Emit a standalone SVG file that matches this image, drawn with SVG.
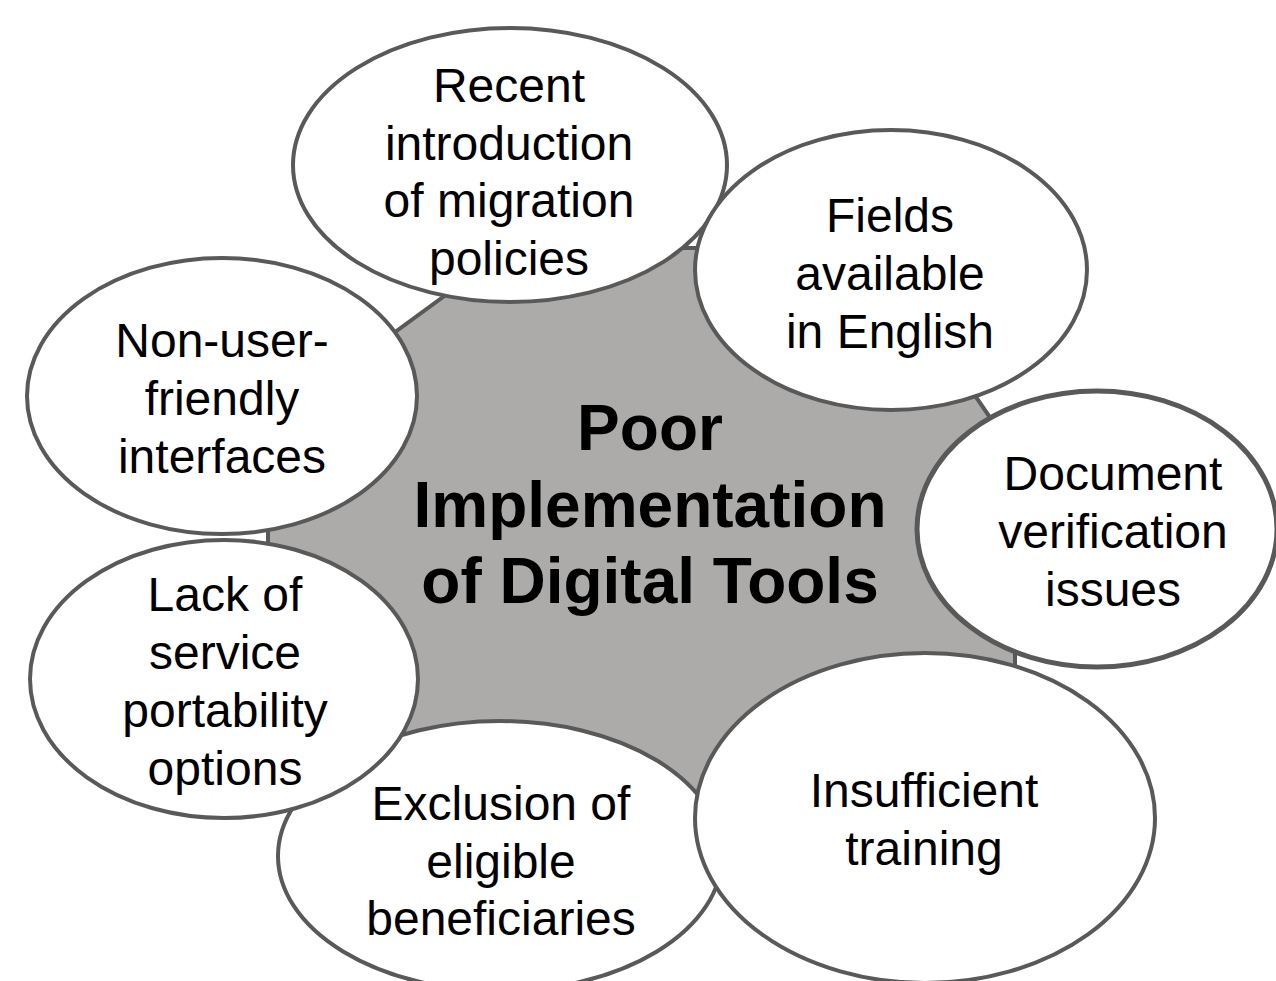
<svg xmlns="http://www.w3.org/2000/svg" width="1276" height="981" viewBox="0 0 1276 981">
<style>
.hub{fill:#acabaa;stroke:#595959;stroke-width:4;stroke-linejoin:round}
.node{fill:#ffffff;stroke:#595959;stroke-width:4}
.t{font-family:"Liberation Sans",Arial,sans-serif;font-size:48px;fill:#000;text-anchor:middle}
.c{font-family:"Liberation Sans",Arial,sans-serif;font-size:64px;font-weight:bold;fill:#000;text-anchor:middle}
</style>
<rect width="1276" height="981" fill="#ffffff"/>
<g id="center">
<polygon class="hub" points="268,425 510,248 874,248 1015,454 1015,700 870,830 430,830 268,640"/>
</g>
<g id="connectors"></g>
<g id="n-recent">
<ellipse class="node" cx="510" cy="165" rx="217" ry="137"/>
<text class="t" x="509" y="102">Recent</text>
<text class="t" x="509" y="160">introduction</text>
<text class="t" x="509" y="217">of migration</text>
<text class="t" x="509" y="275">policies</text>
</g>
<g id="n-fields">
<ellipse class="node" cx="891" cy="270" rx="196" ry="140"/>
<text class="t" x="890" y="232">Fields</text>
<text class="t" x="890" y="290">available</text>
<text class="t" x="890" y="348">in English</text>
</g>
<g id="n-nonuser">
<ellipse class="node" cx="222" cy="396" rx="195" ry="138"/>
<text class="t" x="222" y="357">Non-user-</text>
<text class="t" x="222" y="415">friendly</text>
<text class="t" x="222" y="473">interfaces</text>
</g>
<g id="n-document">
<ellipse class="node" cx="1097" cy="529" rx="180" ry="138" style="stroke-width:5"/>
<text class="t" x="1113" y="490">Document</text>
<text class="t" x="1113" y="548">verification</text>
<text class="t" x="1113" y="606">issues</text>
</g>
<g id="n-exclusion">
<ellipse class="node" cx="500" cy="856" rx="222" ry="135"/>
<text class="t" x="501" y="820">Exclusion of</text>
<text class="t" x="501" y="878">eligible</text>
<text class="t" x="501" y="935">beneficiaries</text>
</g>
<g id="n-lack">
<ellipse class="node" cx="224" cy="679" rx="194" ry="139"/>
<text class="t" x="225" y="611">Lack of</text>
<text class="t" x="225" y="669">service</text>
<text class="t" x="225" y="727">portability</text>
<text class="t" x="225" y="785">options</text>
</g>
<g id="n-insufficient">
<ellipse class="node" cx="925" cy="818" rx="230" ry="165"/>
<text class="t" x="924" y="807">Insufficient</text>
<text class="t" x="924" y="865">training</text>
</g>
<g id="n-center">
<text class="c" x="650" y="450">Poor</text>
<text class="c" x="650" y="527">Implementation</text>
<text class="c" x="650" y="603">of Digital Tools</text>
</g>
</svg>
